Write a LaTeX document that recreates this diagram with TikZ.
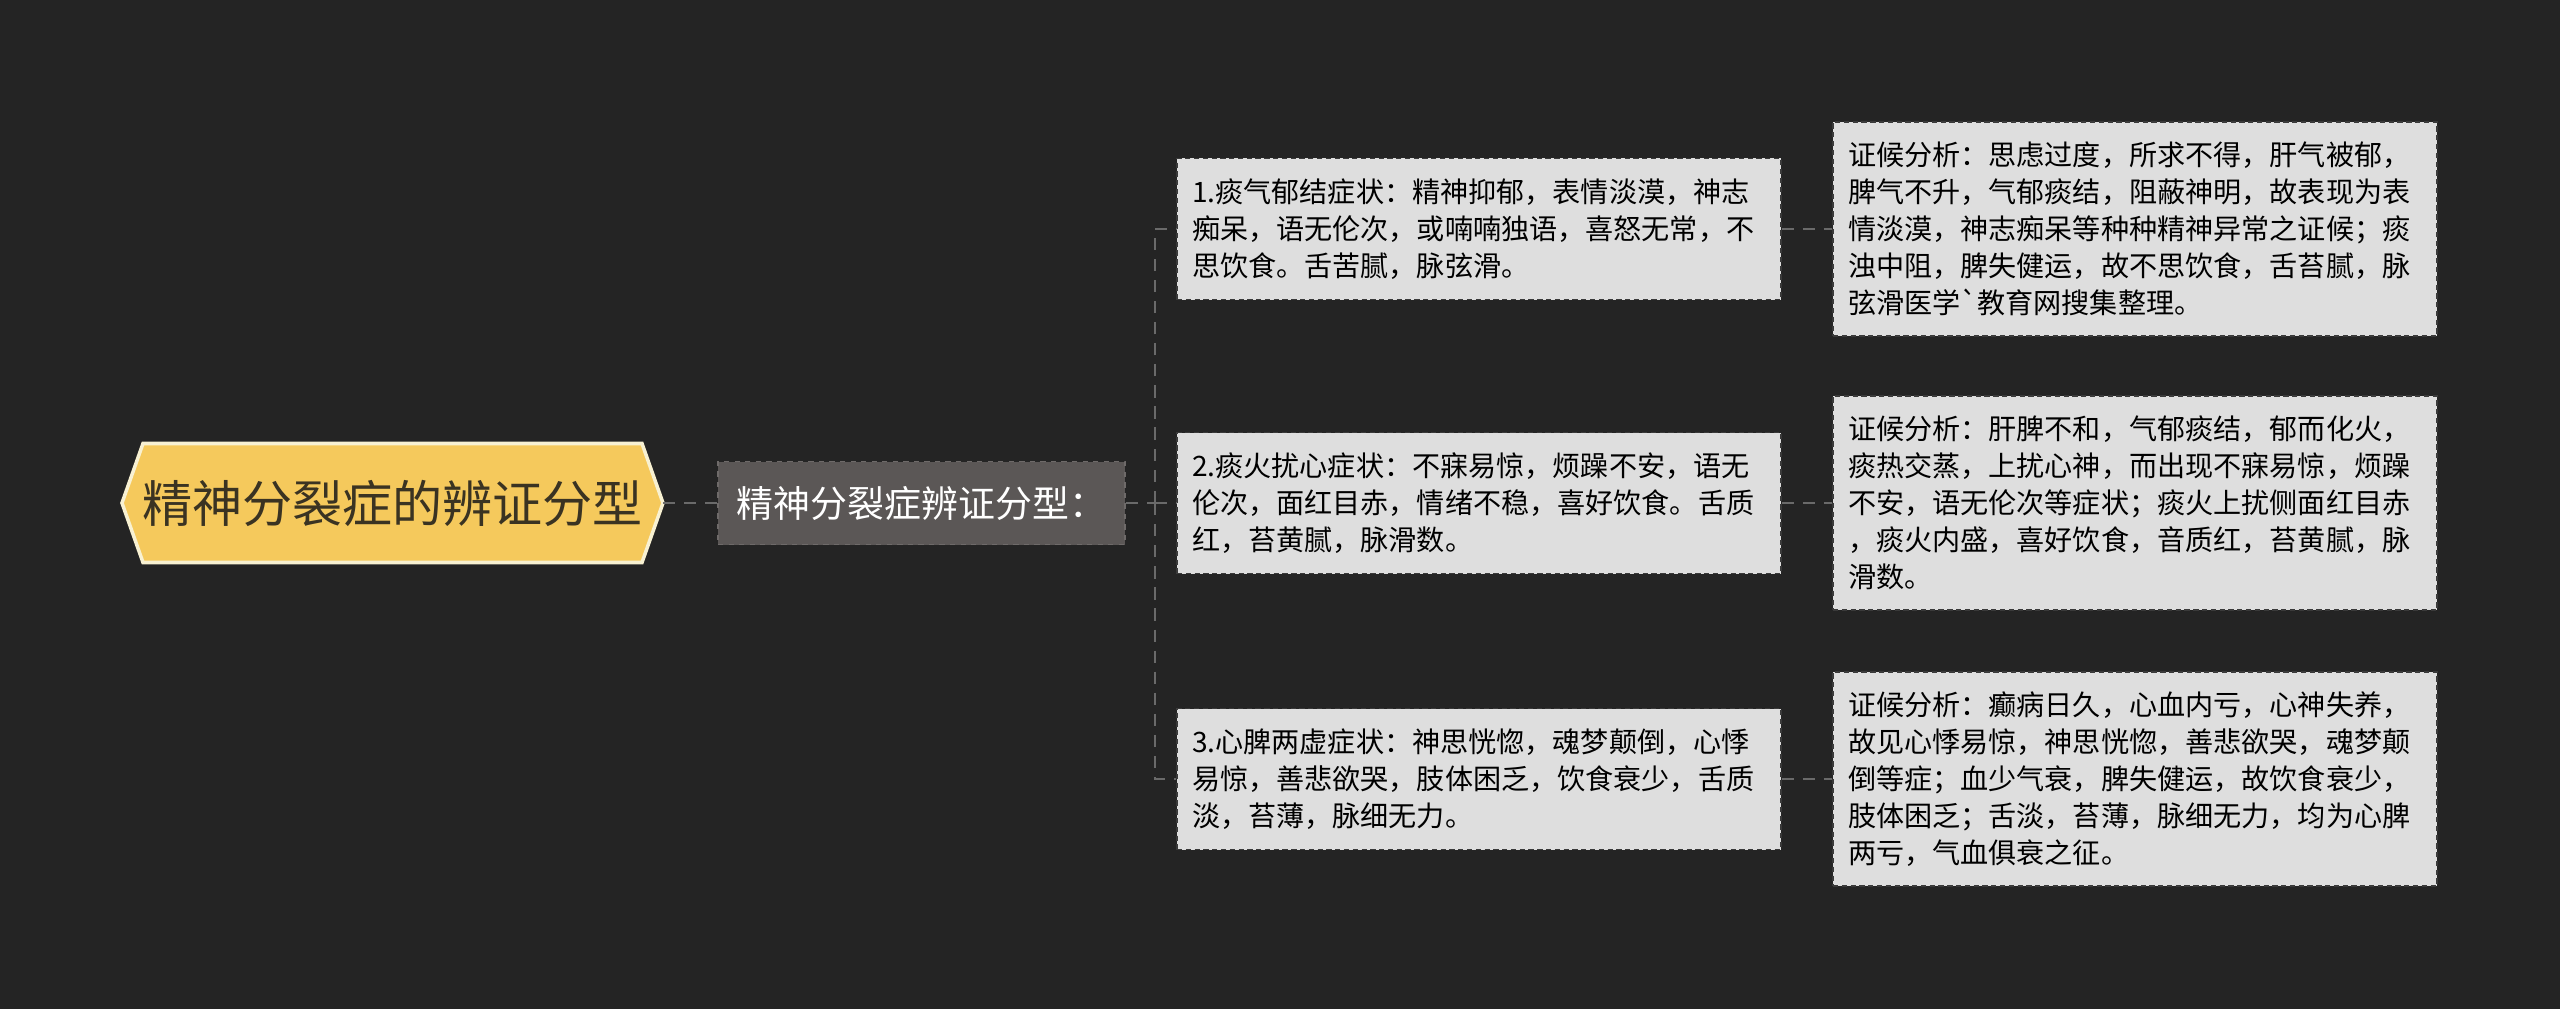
\documentclass[tikz,border=0pt]{standalone}
\usepackage{fontspec}
\setmainfont{Noto Sans CJK SC}[Ligatures=TeXOff]

\definecolor{bgdark}{HTML}{242424}
\definecolor{rootfill}{HTML}{F5C95C}
\definecolor{rootedge}{HTML}{F8F1D2}
\definecolor{roottext}{HTML}{3A3322}
\definecolor{typefill}{HTML}{5B5756}
\definecolor{typeline}{HTML}{6E6A69}
\definecolor{boxfill}{HTML}{DEDEDE}
\definecolor{boxline}{HTML}{3A3A3A}
\definecolor{linkgray}{HTML}{6A6A6A}

\tikzset{
  rootbox/.style={inner sep=0pt, text=roottext,
    font=\fontsize{28.5pt}{33pt}\selectfont},
  typebox/.style={fill=typefill, draw=typeline, dashed, line width=0.8pt,
    minimum width=8.14cm, minimum height=1.66cm, text=white,
    font=\fontsize{21pt}{25pt}\selectfont},
  textbox/.style={fill=boxfill, draw=boxline, dash pattern=on 3pt off 2pt,
    line width=0.8pt, text width=11.48cm, inner xsep=0.3cm, align=left,
    text=black, font=\fontsize{16pt}{21pt}\selectfont},
  symbox/.style={textbox, minimum height=2.82cm},
  anabox/.style={textbox, minimum height=4.28cm},
  link/.style={draw=linkgray, line width=1.2pt, dash pattern=on 7pt off 5pt},
}

\begin{document}
\begin{tikzpicture}
    % Background
    \fill[bgdark] (0,0) rectangle (51.2,-20.18);
    \useasboundingbox (0,0) rectangle (51.2,-20.18);

    % Root hexagon
    \begin{scope}[shift={(7.85,-10.06)}]
        \draw[fill=rootfill, draw=rootedge, line width=2pt, line join=miter]
            (-5.41,0) -- (-4.99,1.19) -- (4.99,1.19) -- (5.41,0)
            -- (4.99,-1.19) -- (-4.99,-1.19) -- cycle;
        \node[rootbox] (root) at (0,0) {精神分裂症的辨证分型};
        \coordinate (roottip) at (5.41,0);
    \end{scope}

    % Second level
    \node[typebox] (type) at (18.43,-10.06) {精神分裂症辨证分型：};
    \coordinate (fork) at (23.1,-10.06);

    % Symptoms
    \node[symbox] (syma) at (29.58,-4.58) {1.痰气郁结症状：精神抑郁，表情淡漠，神志\\
        痴呆，语无伦次，或喃喃独语，喜怒无常，不\\
        思饮食。舌苦腻，脉弦滑。};
    \node[symbox] (symb) at (29.58,-10.06) {2.痰火扰心症状：不寐易惊，烦躁不安，语无\\
        伦次，面红目赤，情绪不稳，喜好饮食。舌质\\
        红，苔黄腻，脉滑数。};
    \node[symbox] (symc) at (29.58,-15.58) {3.心脾两虚症状：神思恍惚，魂梦颠倒，心悸\\
        易惊，善悲欲哭，肢体困乏，饮食衰少，舌质\\
        淡，苔薄，脉细无力。};

    % Analysis
    \node[anabox] (anaa) at (42.7,-4.58) {证候分析：思虑过度，所求不得，肝气被郁，\\
        脾气不升，气郁痰结，阻蔽神明，故表现为表\\
        情淡漠，神志痴呆等种种精神异常之证候；痰\\
        浊中阻，脾失健运，故不思饮食，舌苔腻，脉\\
        弦滑医学\symbol{96}教育网搜集整理。};
    \node[anabox] (anab) at (42.7,-10.06) {证候分析：肝脾不和，气郁痰结，郁而化火，\\
        痰热交蒸，上扰心神，而出现不寐易惊，烦躁\\
        不安，语无伦次等症状；痰火上扰侧面红目赤\\
        ，痰火内盛，喜好饮食，音质红，苔黄腻，脉\\
        滑数。};
    \node[anabox] (anac) at (42.7,-15.58) {证候分析：癫病日久，心血内亏，心神失养，\\
        故见心悸易惊，神思恍惚，善悲欲哭，魂梦颠\\
        倒等症；血少气衰，脾失健运，故饮食衰少，\\
        肢体困乏；舌淡，苔薄，脉细无力，均为心脾\\
        两亏，气血俱衰之征。};

    % Connectors
    \draw[link] (roottip) -- (type.west);
    \draw[link] (type.east) -- (fork);
    \foreach \n in {a,b,c} {
        \draw[link] (fork) |- (sym\n.west);
        \draw[link] (sym\n.east) -- (ana\n.west);
    }
\end{tikzpicture}
\end{document}
